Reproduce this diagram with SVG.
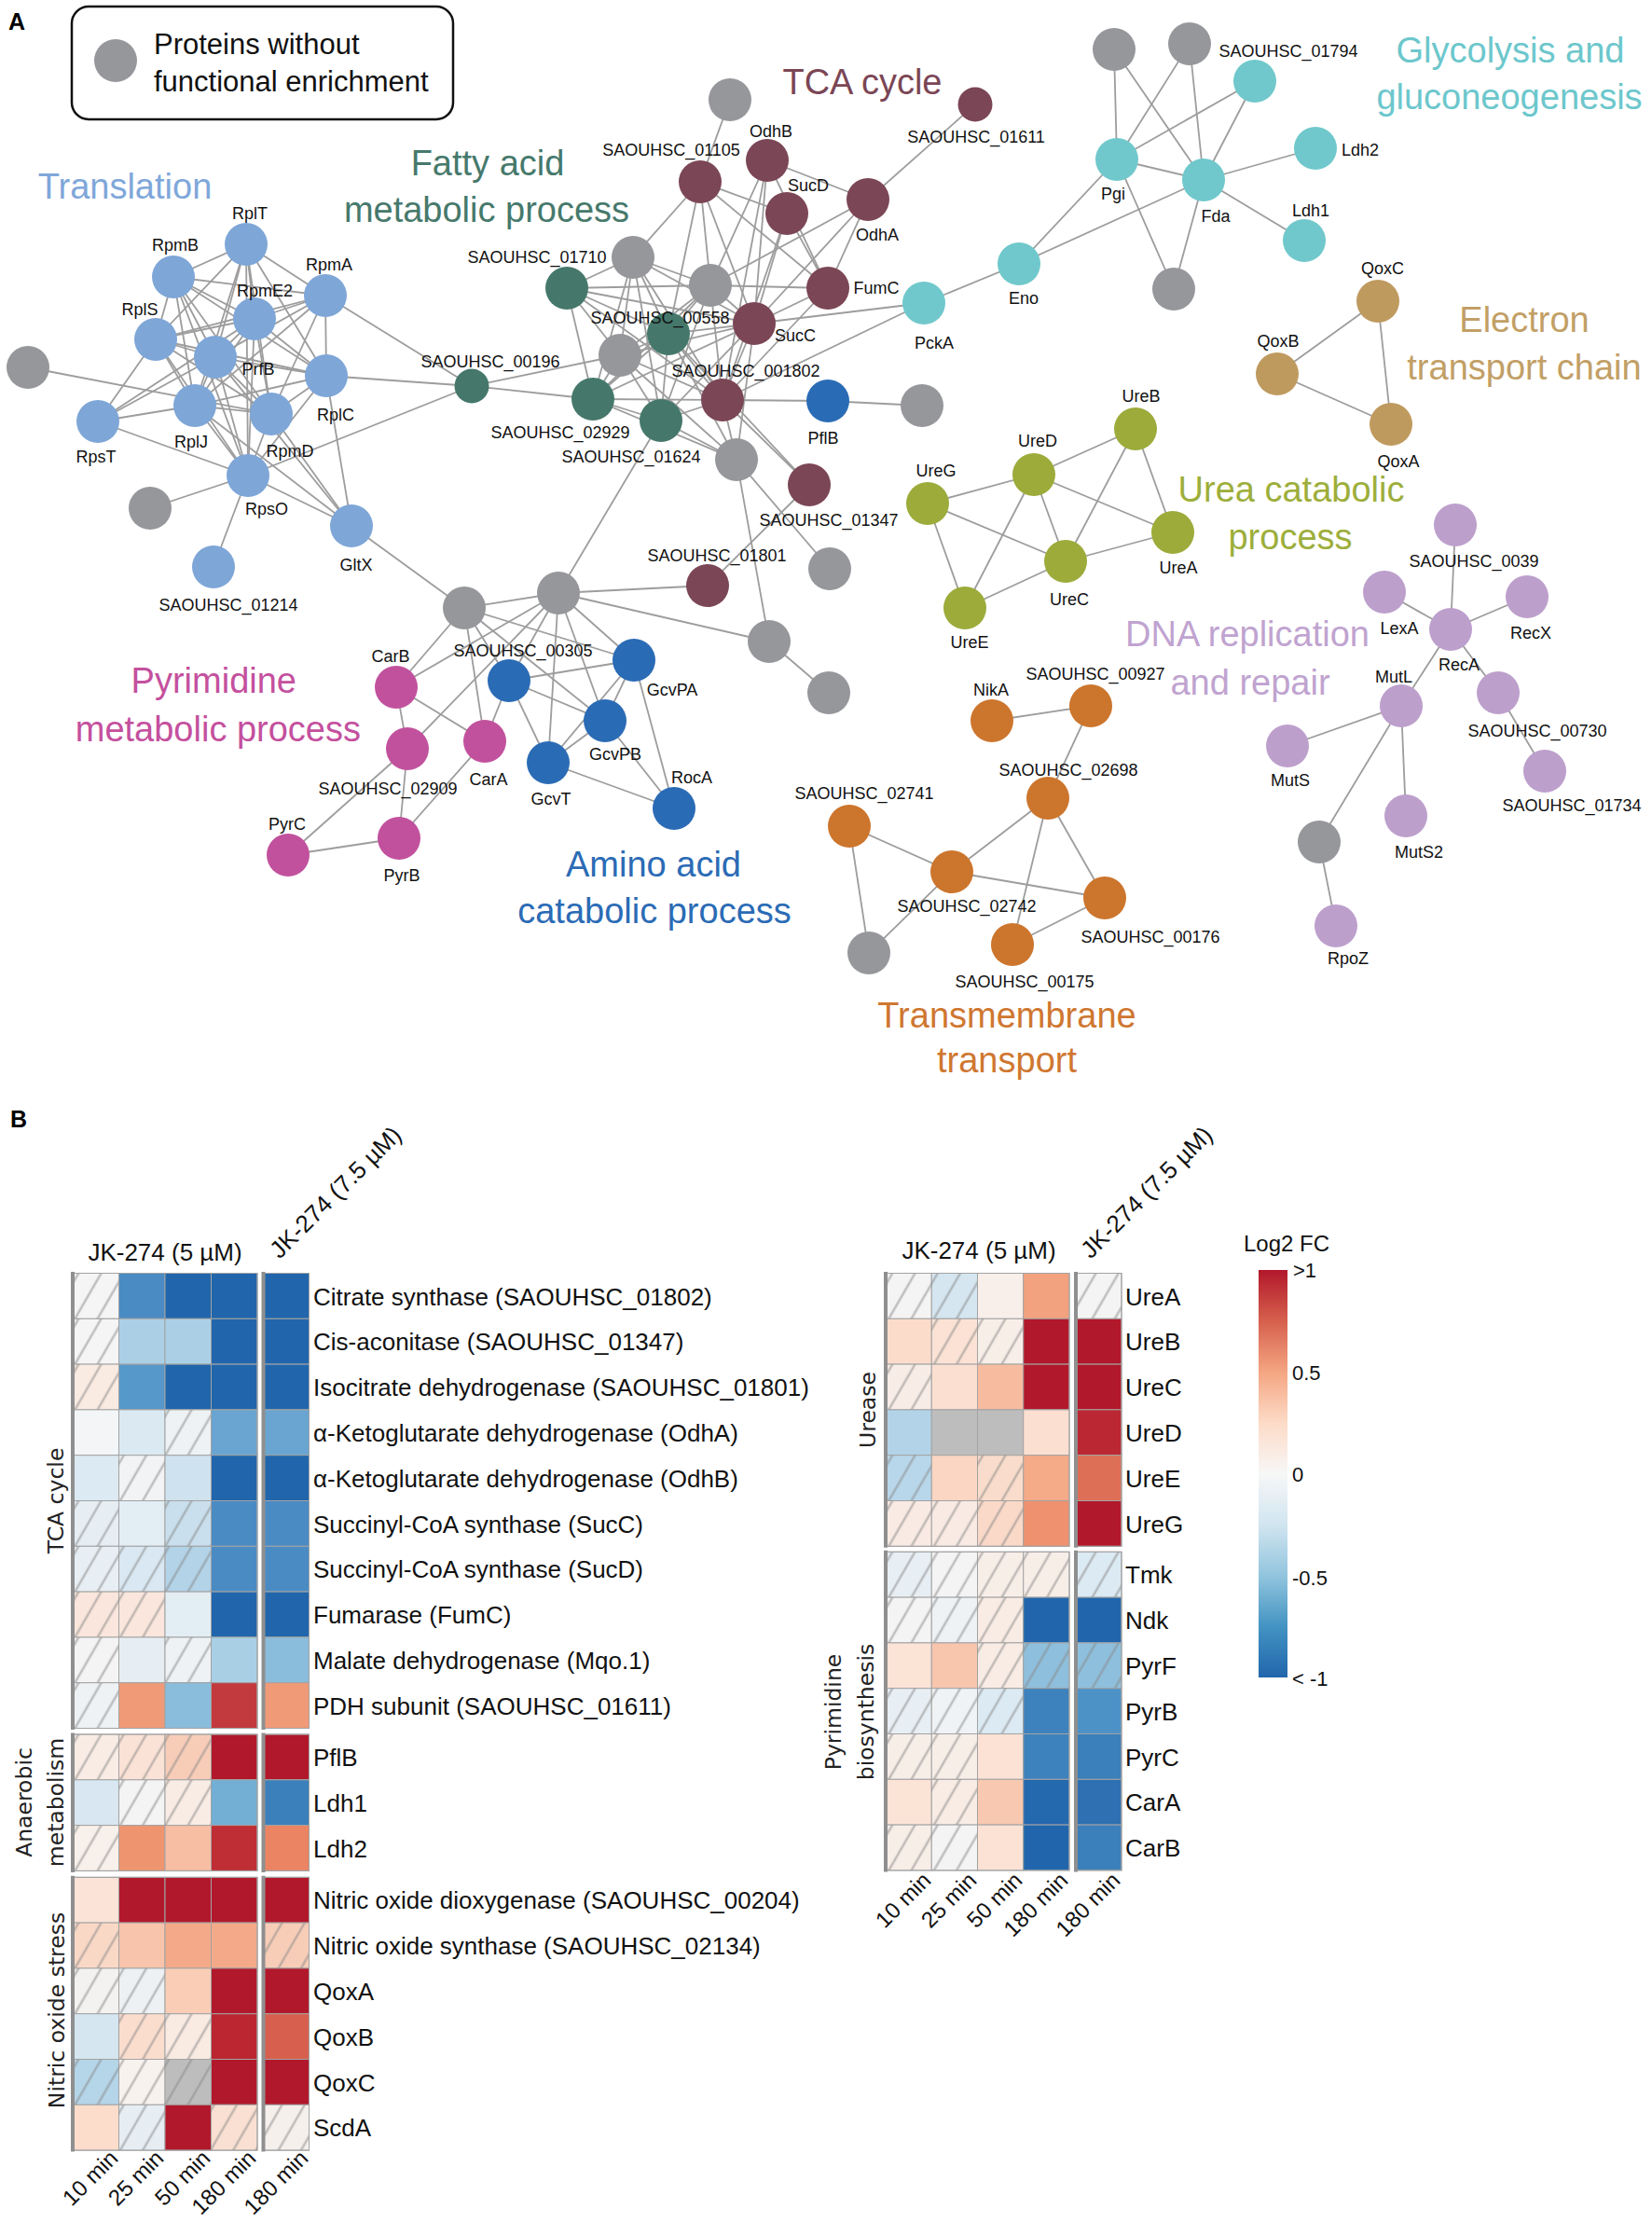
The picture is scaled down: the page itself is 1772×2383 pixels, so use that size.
<svg xmlns="http://www.w3.org/2000/svg" width="1772" height="2383" viewBox="0 0 1772 2383">
<style>
text{font-family:"Liberation Sans",Arial,sans-serif}
.lbl{font-size:18px;fill:#111;text-anchor:middle}
.big{font-size:38px;text-anchor:middle}
.edges line{stroke:#9D9D9D;stroke-width:1.8}
.gr circle{fill:#96979B}
.tr circle{fill:#7EA6D7}
.fa circle{fill:#45786B}
.tca circle{fill:#7B4655}
.gly circle{fill:#70C8CC}
.etc circle{fill:#BF9A5F}
.ure circle{fill:#9CAB3A}
.dna circle{fill:#BD9FCC}
.pyr circle{fill:#C1519D}
.aa circle{fill:#2A6BB5}
.tm circle{fill:#CC752D}
.hm rect{stroke:#A3A3A3;stroke-width:1}
.hm rect.h{stroke:none}
.rl{font-size:26px;fill:#111}
.grp{font-family:"DejaVu Sans",sans-serif;font-size:23.5px;fill:#222;text-anchor:middle}
.frame{fill:none;stroke:#A0A0A0;stroke-width:3}
.lft{stroke:#8F8F8F;stroke-width:4}
.tl{font-size:24px;fill:#111;text-anchor:end}
.hd{font-size:26px;fill:#111}
.cb{font-size:22px;fill:#111}
</style>
<defs>
<pattern id="hatch" patternUnits="userSpaceOnUse" width="21" height="21" patternTransform="rotate(30)">
<line x1="10" y1="-1" x2="10" y2="22" stroke="#8A8A8A" stroke-opacity="0.5" stroke-width="2.6"/>
</pattern>
<linearGradient id="cbar" x1="0" y1="0" x2="0" y2="1">
<stop offset="0" stop-color="#B2182B"/>
<stop offset="0.125" stop-color="#D6604D"/>
<stop offset="0.25" stop-color="#F4A582"/>
<stop offset="0.375" stop-color="#FDDBC7"/>
<stop offset="0.5" stop-color="#F7F7F7"/>
<stop offset="0.625" stop-color="#D1E5F0"/>
<stop offset="0.75" stop-color="#92C5DE"/>
<stop offset="0.875" stop-color="#4393C3"/>
<stop offset="1" stop-color="#2166AC"/>
</linearGradient>
</defs>
<rect width="1772" height="2383" fill="#FFFFFF"/>

<!-- Panel A -->
<text x="9" y="32" font-size="25" font-weight="bold" fill="#000">A</text>
<g id="legend">
<rect x="77" y="7" width="409" height="121" rx="18" fill="#FFF" stroke="#111" stroke-width="2.5"/>
<circle cx="124" cy="65" r="23" fill="#96979B"/>
<text x="165" y="58" font-size="31" fill="#111">Proteins without</text>
<text x="165" y="98" font-size="31" fill="#111">functional enrichment</text>
</g>

<g id="cluster-titles">
<text class="big" x="134" y="213" fill="#7FA7DA">Translation</text>
<text class="big" x="523" y="188" fill="#46796C">Fatty acid</text>
<text class="big" x="522" y="238" fill="#46796C">metabolic process</text>
<text class="big" x="925" y="101" fill="#7B4655">TCA cycle</text>
<text class="big" x="1620" y="67" fill="#6CC7CC">Glycolysis and</text>
<text class="big" x="1619" y="117" fill="#6CC7CC">gluconeogenesis</text>
<text class="big" x="1635" y="356" fill="#C29F66">Electron</text>
<text class="big" x="1635" y="407" fill="#C29F66">transport chain</text>
<text class="big" x="1385" y="538" fill="#9DAE3B">Urea catabolic</text>
<text class="big" x="1384" y="589" fill="#9DAE3B">process</text>
<text class="big" x="1338" y="693" fill="#C0A3D0" font-size="39">DNA replication</text>
<text class="big" x="1341" y="745" fill="#C0A3D0" font-size="39">and repair</text>
<text class="big" x="318" y="743" fill="#C4509E" style="text-anchor:end">Pyrimidine</text>
<text class="big" x="387" y="795" fill="#C4509E" style="text-anchor:end">metabolic process</text>
<text class="big" x="701" y="940" fill="#2B6BB5">Amino acid</text>
<text class="big" x="702" y="990" fill="#2B6BB5">catabolic process</text>
<text class="big" x="1080" y="1102" fill="#CF7730">Transmembrane</text>
<text class="big" x="1080" y="1150" fill="#CF7730">transport</text>
</g>

<g id="connectors" class="edges">
<line x1="264" y1="262" x2="186" y2="297"/><line x1="264" y1="262" x2="349" y2="317"/><line x1="264" y1="262" x2="273" y2="342"/><line x1="264" y1="262" x2="167" y2="364"/><line x1="264" y1="262" x2="231" y2="383"/><line x1="264" y1="262" x2="209" y2="435"/><line x1="264" y1="262" x2="291" y2="444"/><line x1="264" y1="262" x2="350" y2="403"/><line x1="264" y1="262" x2="266" y2="510"/>
<line x1="186" y1="297" x2="273" y2="342"/><line x1="186" y1="297" x2="349" y2="317"/><line x1="186" y1="297" x2="167" y2="364"/><line x1="186" y1="297" x2="231" y2="383"/><line x1="186" y1="297" x2="209" y2="435"/><line x1="186" y1="297" x2="291" y2="444"/><line x1="186" y1="297" x2="350" y2="403"/><line x1="186" y1="297" x2="266" y2="510"/>
<line x1="349" y1="317" x2="273" y2="342"/><line x1="349" y1="317" x2="167" y2="364"/><line x1="349" y1="317" x2="231" y2="383"/><line x1="349" y1="317" x2="209" y2="435"/><line x1="349" y1="317" x2="350" y2="403"/><line x1="349" y1="317" x2="291" y2="444"/><line x1="349" y1="317" x2="506" y2="414"/>
<line x1="273" y1="342" x2="167" y2="364"/><line x1="273" y1="342" x2="231" y2="383"/><line x1="273" y1="342" x2="209" y2="435"/><line x1="273" y1="342" x2="291" y2="444"/><line x1="273" y1="342" x2="350" y2="403"/><line x1="273" y1="342" x2="105" y2="452"/><line x1="273" y1="342" x2="266" y2="510"/>
<line x1="167" y1="364" x2="231" y2="383"/><line x1="167" y1="364" x2="209" y2="435"/><line x1="167" y1="364" x2="291" y2="444"/><line x1="167" y1="364" x2="350" y2="403"/><line x1="167" y1="364" x2="105" y2="452"/><line x1="167" y1="364" x2="266" y2="510"/>
<line x1="231" y1="383" x2="209" y2="435"/><line x1="231" y1="383" x2="291" y2="444"/><line x1="231" y1="383" x2="350" y2="403"/><line x1="231" y1="383" x2="105" y2="452"/><line x1="231" y1="383" x2="266" y2="510"/><line x1="231" y1="383" x2="377" y2="564"/>
<line x1="350" y1="403" x2="209" y2="435"/><line x1="350" y1="403" x2="291" y2="444"/><line x1="350" y1="403" x2="266" y2="510"/><line x1="350" y1="403" x2="377" y2="564"/><line x1="350" y1="403" x2="506" y2="414"/>
<line x1="209" y1="435" x2="291" y2="444"/><line x1="209" y1="435" x2="105" y2="452"/><line x1="209" y1="435" x2="266" y2="510"/><line x1="209" y1="435" x2="377" y2="564"/>
<line x1="291" y1="444" x2="266" y2="510"/><line x1="291" y1="444" x2="377" y2="564"/><line x1="105" y1="452" x2="266" y2="510"/><line x1="30" y1="394" x2="291" y2="444"/>
<line x1="266" y1="510" x2="161" y2="545"/><line x1="266" y1="510" x2="229" y2="608"/><line x1="266" y1="510" x2="377" y2="564"/><line x1="266" y1="510" x2="506" y2="414"/><line x1="377" y1="564" x2="498" y2="652"/>
<line x1="506" y1="414" x2="665" y2="381"/><line x1="506" y1="414" x2="636" y2="428"/>
<line x1="783" y1="107" x2="751" y2="195"/>
<line x1="679" y1="276" x2="751" y2="195"/><line x1="679" y1="276" x2="608" y2="309"/><line x1="679" y1="276" x2="762" y2="306"/><line x1="679" y1="276" x2="809" y2="347"/><line x1="679" y1="276" x2="665" y2="381"/><line x1="679" y1="276" x2="717" y2="358"/><line x1="679" y1="276" x2="636" y2="428"/><line x1="679" y1="276" x2="709" y2="451"/><line x1="679" y1="276" x2="775" y2="429"/>
<line x1="608" y1="309" x2="762" y2="306"/><line x1="608" y1="309" x2="809" y2="347"/><line x1="608" y1="309" x2="717" y2="358"/><line x1="608" y1="309" x2="665" y2="381"/><line x1="608" y1="309" x2="636" y2="428"/><line x1="608" y1="309" x2="775" y2="429"/>
<line x1="762" y1="306" x2="888" y2="309"/><line x1="762" y1="306" x2="809" y2="347"/><line x1="762" y1="306" x2="751" y2="195"/><line x1="762" y1="306" x2="823" y2="172"/><line x1="762" y1="306" x2="931" y2="214"/><line x1="762" y1="306" x2="717" y2="358"/><line x1="762" y1="306" x2="665" y2="381"/><line x1="762" y1="306" x2="636" y2="428"/><line x1="762" y1="306" x2="709" y2="451"/><line x1="762" y1="306" x2="775" y2="429"/>
<line x1="751" y1="195" x2="844" y2="229"/><line x1="751" y1="195" x2="888" y2="309"/><line x1="751" y1="195" x2="809" y2="347"/><line x1="751" y1="195" x2="717" y2="358"/>
<line x1="823" y1="172" x2="931" y2="214"/><line x1="823" y1="172" x2="809" y2="347"/><line x1="823" y1="172" x2="888" y2="309"/><line x1="823" y1="172" x2="775" y2="429"/>
<line x1="844" y1="229" x2="888" y2="309"/><line x1="844" y1="229" x2="809" y2="347"/><line x1="844" y1="229" x2="775" y2="429"/>
<line x1="931" y1="214" x2="1046" y2="112"/><line x1="931" y1="214" x2="809" y2="347"/><line x1="931" y1="214" x2="888" y2="309"/>
<line x1="888" y1="309" x2="809" y2="347"/><line x1="888" y1="309" x2="775" y2="429"/>
<line x1="809" y1="347" x2="991" y2="325"/><line x1="809" y1="347" x2="717" y2="358"/><line x1="809" y1="347" x2="665" y2="381"/><line x1="809" y1="347" x2="636" y2="428"/><line x1="809" y1="347" x2="709" y2="451"/><line x1="809" y1="347" x2="775" y2="429"/><line x1="809" y1="347" x2="790" y2="493"/>
<line x1="775" y1="429" x2="888" y2="430"/><line x1="775" y1="429" x2="991" y2="325"/><line x1="775" y1="429" x2="636" y2="428"/><line x1="775" y1="429" x2="709" y2="451"/><line x1="775" y1="429" x2="790" y2="493"/><line x1="775" y1="429" x2="717" y2="358"/><line x1="775" y1="429" x2="665" y2="381"/><line x1="775" y1="429" x2="868" y2="520"/>
<line x1="717" y1="358" x2="665" y2="381"/><line x1="717" y1="358" x2="636" y2="428"/><line x1="717" y1="358" x2="709" y2="451"/><line x1="717" y1="358" x2="790" y2="493"/><line x1="717" y1="358" x2="868" y2="520"/>
<line x1="665" y1="381" x2="636" y2="428"/><line x1="665" y1="381" x2="709" y2="451"/><line x1="665" y1="381" x2="790" y2="493"/>
<line x1="636" y1="428" x2="709" y2="451"/><line x1="636" y1="428" x2="790" y2="493"/><line x1="709" y1="451" x2="790" y2="493"/><line x1="709" y1="451" x2="599" y2="636"/>
<line x1="790" y1="493" x2="890" y2="610"/><line x1="790" y1="493" x2="825" y2="688"/><line x1="868" y1="520" x2="759" y2="628"/><line x1="888" y1="430" x2="989" y2="435"/>
<line x1="599" y1="636" x2="498" y2="652"/><line x1="599" y1="636" x2="759" y2="628"/><line x1="599" y1="636" x2="825" y2="688"/><line x1="599" y1="636" x2="437" y2="803"/><line x1="599" y1="636" x2="425" y2="737"/><line x1="599" y1="636" x2="546" y2="730"/><line x1="599" y1="636" x2="588" y2="818"/><line x1="599" y1="636" x2="649" y2="773"/><line x1="599" y1="636" x2="680" y2="708"/>
<line x1="498" y1="652" x2="425" y2="737"/><line x1="498" y1="652" x2="546" y2="730"/><line x1="498" y1="652" x2="520" y2="795"/><line x1="498" y1="652" x2="649" y2="773"/><line x1="498" y1="652" x2="680" y2="708"/>
<line x1="825" y1="688" x2="889" y2="743"/>
<line x1="425" y1="737" x2="437" y2="803"/><line x1="425" y1="737" x2="520" y2="795"/><line x1="437" y1="803" x2="309" y2="917"/><line x1="437" y1="803" x2="428" y2="899"/><line x1="520" y1="795" x2="428" y2="899"/><line x1="520" y1="795" x2="546" y2="730"/><line x1="309" y1="917" x2="428" y2="899"/>
<line x1="546" y1="730" x2="680" y2="708"/><line x1="546" y1="730" x2="649" y2="773"/><line x1="546" y1="730" x2="588" y2="818"/><line x1="680" y1="708" x2="649" y2="773"/><line x1="680" y1="708" x2="588" y2="818"/><line x1="680" y1="708" x2="723" y2="867"/><line x1="649" y1="773" x2="588" y2="818"/><line x1="649" y1="773" x2="723" y2="867"/><line x1="588" y1="818" x2="723" y2="867"/>
<line x1="1195" y1="53" x2="1198" y2="171"/><line x1="1195" y1="53" x2="1291" y2="193"/><line x1="1276" y1="47" x2="1198" y2="171"/><line x1="1276" y1="47" x2="1291" y2="193"/><line x1="1346" y1="87" x2="1198" y2="171"/><line x1="1346" y1="87" x2="1291" y2="193"/>
<line x1="1198" y1="171" x2="1291" y2="193"/><line x1="1198" y1="171" x2="1093" y2="283"/><line x1="1198" y1="171" x2="1259" y2="310"/><line x1="1291" y1="193" x2="1411" y2="159"/><line x1="1291" y1="193" x2="1399" y2="258"/><line x1="1291" y1="193" x2="1093" y2="283"/><line x1="1291" y1="193" x2="1259" y2="310"/><line x1="1093" y1="283" x2="991" y2="325"/>
<line x1="1478" y1="323" x2="1370" y2="401"/><line x1="1478" y1="323" x2="1492" y2="455"/><line x1="1370" y1="401" x2="1492" y2="455"/>
<line x1="995" y1="540" x2="1109" y2="509"/><line x1="995" y1="540" x2="1143" y2="602"/><line x1="995" y1="540" x2="1035" y2="652"/><line x1="1109" y1="509" x2="1218" y2="460"/><line x1="1109" y1="509" x2="1258" y2="571"/><line x1="1109" y1="509" x2="1143" y2="602"/><line x1="1109" y1="509" x2="1035" y2="652"/><line x1="1218" y1="460" x2="1143" y2="602"/><line x1="1218" y1="460" x2="1258" y2="571"/><line x1="1143" y1="602" x2="1258" y2="571"/><line x1="1143" y1="602" x2="1035" y2="652"/>
<line x1="1561" y1="563" x2="1556" y2="675"/><line x1="1485" y1="635" x2="1556" y2="675"/><line x1="1638" y1="640" x2="1556" y2="675"/><line x1="1556" y1="675" x2="1503" y2="757"/><line x1="1556" y1="675" x2="1607" y2="743"/><line x1="1607" y1="743" x2="1657" y2="827"/><line x1="1503" y1="757" x2="1381" y2="800"/><line x1="1503" y1="757" x2="1415" y2="903"/><line x1="1503" y1="757" x2="1508" y2="875"/><line x1="1415" y1="903" x2="1433" y2="993"/>
<line x1="1064" y1="773" x2="1170" y2="757"/><line x1="1170" y1="757" x2="1124" y2="856"/><line x1="1124" y1="856" x2="1021" y2="935"/><line x1="1124" y1="856" x2="1086" y2="1013"/><line x1="1124" y1="856" x2="1185" y2="963"/><line x1="911" y1="886" x2="1021" y2="935"/><line x1="911" y1="886" x2="932" y2="1022"/><line x1="1021" y1="935" x2="1185" y2="963"/><line x1="1021" y1="935" x2="932" y2="1022"/><line x1="1185" y1="963" x2="1086" y2="1013"/>
</g>

<g id="nodes">
<g id="n-g1" class="gr"><circle cx="30" cy="394" r="23"/></g>
<g id="n-g2" class="gr"><circle cx="161" cy="545" r="23"/></g>
<g id="n-g3" class="gr"><circle cx="783" cy="107" r="23"/></g>
<g id="n-g4" class="gr"><circle cx="679" cy="276" r="23"/></g>
<g id="n-g5" class="gr"><circle cx="762" cy="306" r="23"/></g>
<g id="n-g6" class="gr"><circle cx="665" cy="381" r="23"/></g>
<g id="n-g7" class="gr"><circle cx="790" cy="493" r="23"/></g>
<g id="n-g8" class="gr"><circle cx="989" cy="435" r="23"/></g>
<g id="n-g9" class="gr"><circle cx="890" cy="610" r="23"/></g>
<g id="n-g10" class="gr"><circle cx="599" cy="636" r="23"/></g>
<g id="n-g11" class="gr"><circle cx="498" cy="652" r="23"/></g>
<g id="n-g12" class="gr"><circle cx="825" cy="688" r="23"/></g>
<g id="n-g13" class="gr"><circle cx="889" cy="743" r="23"/></g>
<g id="n-g14" class="gr"><circle cx="1195" cy="53" r="23"/></g>
<g id="n-g15" class="gr"><circle cx="1276" cy="47" r="23"/></g>
<g id="n-g16" class="gr"><circle cx="1259" cy="310" r="23"/></g>
<g id="n-g17" class="gr"><circle cx="1415" cy="903" r="23"/></g>
<g id="n-g18" class="gr"><circle cx="932" cy="1022" r="23"/></g>

<g id="n-RplT" class="tr"><circle cx="264" cy="262" r="23"/><text class="lbl" x="268" y="235">RplT</text></g>
<g id="n-RpmB" class="tr"><circle cx="186" cy="297" r="23"/><text class="lbl" x="188" y="269">RpmB</text></g>
<g id="n-RpmA" class="tr"><circle cx="349" cy="317" r="23"/><text class="lbl" x="353" y="290">RpmA</text></g>
<g id="n-RplS" class="tr"><circle cx="167" cy="364" r="23"/><text class="lbl" x="150" y="338">RplS</text></g>
<g id="n-RpmE2" class="tr"><circle cx="273" cy="342" r="23"/><text class="lbl" x="284" y="318">RpmE2</text></g>
<g id="n-PrfB" class="tr"><circle cx="231" cy="383" r="23"/><text class="lbl" x="277" y="402">PrfB</text></g>
<g id="n-RplC" class="tr"><circle cx="350" cy="403" r="23"/><text class="lbl" x="360" y="451">RplC</text></g>
<g id="n-RplJ" class="tr"><circle cx="209" cy="435" r="23"/><text class="lbl" x="205" y="480">RplJ</text></g>
<g id="n-RpmD" class="tr"><circle cx="291" cy="444" r="23"/><text class="lbl" x="311" y="490">RpmD</text></g>
<g id="n-RpsT" class="tr"><circle cx="105" cy="452" r="23"/><text class="lbl" x="103" y="496">RpsT</text></g>
<g id="n-RpsO" class="tr"><circle cx="266" cy="510" r="23"/><text class="lbl" x="286" y="552">RpsO</text></g>
<g id="n-SAOUHSC_01214" class="tr"><circle cx="229" cy="608" r="23"/><text class="lbl" x="245" y="655">SAOUHSC_01214</text></g>
<g id="n-GltX" class="tr"><circle cx="377" cy="564" r="23"/><text class="lbl" x="382" y="612">GltX</text></g>

<g id="n-SAOUHSC_00196" class="fa"><circle cx="506" cy="414" r="18.5"/><text class="lbl" x="526" y="394">SAOUHSC_00196</text></g>
<g id="n-SAOUHSC_01710" class="fa"><circle cx="608" cy="309" r="23"/><text class="lbl" x="576" y="282">SAOUHSC_01710</text></g>
<g id="n-SAOUHSC_00558" class="fa"><circle cx="717" cy="358" r="23"/><text class="lbl" x="708" y="347">SAOUHSC_00558</text></g>
<g id="n-SAOUHSC_02929" class="fa"><circle cx="636" cy="428" r="23"/><text class="lbl" x="601" y="470">SAOUHSC_02929</text></g>
<g id="n-SAOUHSC_01624" class="fa"><circle cx="709" cy="451" r="23"/><text class="lbl" x="677" y="496">SAOUHSC_01624</text></g>

<g id="n-SAOUHSC_01105" class="tca"><circle cx="751" cy="195" r="23"/><text class="lbl" x="720" y="167">SAOUHSC_01105</text></g>
<g id="n-OdhB" class="tca"><circle cx="823" cy="172" r="23"/><text class="lbl" x="827" y="147">OdhB</text></g>
<g id="n-SucD" class="tca"><circle cx="844" cy="229" r="23"/><text class="lbl" x="867" y="205">SucD</text></g>
<g id="n-OdhA" class="tca"><circle cx="931" cy="214" r="23"/><text class="lbl" x="941" y="258">OdhA</text></g>
<g id="n-FumC" class="tca"><circle cx="888" cy="309" r="23"/><text class="lbl" x="940" y="315">FumC</text></g>
<g id="n-SucC" class="tca"><circle cx="809" cy="347" r="23"/><text class="lbl" x="853" y="366">SucC</text></g>
<g id="n-SAOUHSC_001802" class="tca"><circle cx="775" cy="429" r="23"/><text class="lbl" x="800" y="404">SAOUHSC_001802</text></g>
<g id="n-SAOUHSC_01347" class="tca"><circle cx="868" cy="520" r="23"/><text class="lbl" x="889" y="564">SAOUHSC_01347</text></g>
<g id="n-SAOUHSC_01801" class="tca"><circle cx="759" cy="628" r="23"/><text class="lbl" x="769" y="602">SAOUHSC_01801</text></g>
<g id="n-SAOUHSC_01611" class="tca"><circle cx="1046" cy="112" r="18.5"/><text class="lbl" x="1047" y="153">SAOUHSC_01611</text></g>

<g id="n-PflB" class="aa"><circle cx="888" cy="430" r="23"/><text class="lbl" x="883" y="476">PflB</text></g>

<g id="n-PckA" class="gly"><circle cx="991" cy="325" r="23"/><text class="lbl" x="1002" y="374">PckA</text></g>
<g id="n-Eno" class="gly"><circle cx="1093" cy="283" r="23"/><text class="lbl" x="1098" y="326">Eno</text></g>
<g id="n-Pgi" class="gly"><circle cx="1198" cy="171" r="23"/><text class="lbl" x="1194" y="214">Pgi</text></g>
<g id="n-Fda" class="gly"><circle cx="1291" cy="193" r="23"/><text class="lbl" x="1304" y="238">Fda</text></g>
<g id="n-SAOUHSC_01794" class="gly"><circle cx="1346" cy="87" r="23"/><text class="lbl" x="1382" y="61">SAOUHSC_01794</text></g>
<g id="n-Ldh2" class="gly"><circle cx="1411" cy="159" r="23"/><text class="lbl" x="1459" y="167">Ldh2</text></g>
<g id="n-Ldh1" class="gly"><circle cx="1399" cy="258" r="23"/><text class="lbl" x="1406" y="232">Ldh1</text></g>

<g id="n-QoxC" class="etc"><circle cx="1478" cy="323" r="23"/><text class="lbl" x="1483" y="294">QoxC</text></g>
<g id="n-QoxB" class="etc"><circle cx="1370" cy="401" r="23"/><text class="lbl" x="1371" y="372">QoxB</text></g>
<g id="n-QoxA" class="etc"><circle cx="1492" cy="455" r="23"/><text class="lbl" x="1500" y="501">QoxA</text></g>

<g id="n-UreB" class="ure"><circle cx="1218" cy="460" r="23"/><text class="lbl" x="1224" y="431">UreB</text></g>
<g id="n-UreD" class="ure"><circle cx="1109" cy="509" r="23"/><text class="lbl" x="1113" y="479">UreD</text></g>
<g id="n-UreG" class="ure"><circle cx="995" cy="540" r="23"/><text class="lbl" x="1004" y="511">UreG</text></g>
<g id="n-UreA" class="ure"><circle cx="1258" cy="571" r="23"/><text class="lbl" x="1264" y="615">UreA</text></g>
<g id="n-UreC" class="ure"><circle cx="1143" cy="602" r="23"/><text class="lbl" x="1147" y="649">UreC</text></g>
<g id="n-UreE" class="ure"><circle cx="1035" cy="652" r="23"/><text class="lbl" x="1040" y="695">UreE</text></g>

<g id="n-SAOUHSC_0039" class="dna"><circle cx="1561" cy="563" r="23"/><text class="lbl" x="1581" y="608">SAOUHSC_0039</text></g>
<g id="n-LexA" class="dna"><circle cx="1485" cy="635" r="23"/><text class="lbl" x="1501" y="680">LexA</text></g>
<g id="n-RecX" class="dna"><circle cx="1638" cy="640" r="23"/><text class="lbl" x="1642" y="685">RecX</text></g>
<g id="n-RecA" class="dna"><circle cx="1556" cy="675" r="23"/><text class="lbl" x="1565" y="719">RecA</text></g>
<g id="n-MutL" class="dna"><circle cx="1503" cy="757" r="23"/><text class="lbl" x="1495" y="732">MutL</text></g>
<g id="n-SAOUHSC_00730" class="dna"><circle cx="1607" cy="743" r="23"/><text class="lbl" x="1649" y="790">SAOUHSC_00730</text></g>
<g id="n-SAOUHSC_01734" class="dna"><circle cx="1657" cy="827" r="23"/><text class="lbl" x="1686" y="870">SAOUHSC_01734</text></g>
<g id="n-MutS" class="dna"><circle cx="1381" cy="800" r="23"/><text class="lbl" x="1384" y="843">MutS</text></g>
<g id="n-MutS2" class="dna"><circle cx="1508" cy="875" r="23"/><text class="lbl" x="1522" y="920">MutS2</text></g>
<g id="n-RpoZ" class="dna"><circle cx="1433" cy="993" r="23"/><text class="lbl" x="1446" y="1034">RpoZ</text></g>

<g id="n-NikA" class="tm"><circle cx="1064" cy="773" r="23"/><text class="lbl" x="1063" y="746">NikA</text></g>
<g id="n-SAOUHSC_00927" class="tm"><circle cx="1170" cy="757" r="23"/><text class="lbl" x="1175" y="729">SAOUHSC_00927</text></g>
<g id="n-SAOUHSC_02698" class="tm"><circle cx="1124" cy="856" r="23"/><text class="lbl" x="1146" y="832">SAOUHSC_02698</text></g>
<g id="n-SAOUHSC_02741" class="tm"><circle cx="911" cy="886" r="23"/><text class="lbl" x="927" y="857">SAOUHSC_02741</text></g>
<g id="n-SAOUHSC_02742" class="tm"><circle cx="1021" cy="935" r="23"/><text class="lbl" x="1037" y="978">SAOUHSC_02742</text></g>
<g id="n-SAOUHSC_00176" class="tm"><circle cx="1185" cy="963" r="23"/><text class="lbl" x="1234" y="1011">SAOUHSC_00176</text></g>
<g id="n-SAOUHSC_00175" class="tm"><circle cx="1086" cy="1013" r="23"/><text class="lbl" x="1099" y="1059">SAOUHSC_00175</text></g>

<g id="n-CarB" class="pyr"><circle cx="425" cy="737" r="23"/><text class="lbl" x="419" y="710">CarB</text></g>
<g id="n-SAOUHSC_02909" class="pyr"><circle cx="437" cy="803" r="23"/><text class="lbl" x="416" y="852">SAOUHSC_02909</text></g>
<g id="n-CarA" class="pyr"><circle cx="520" cy="795" r="23"/><text class="lbl" x="524" y="842">CarA</text></g>
<g id="n-PyrC" class="pyr"><circle cx="309" cy="917" r="23"/><text class="lbl" x="308" y="890">PyrC</text></g>
<g id="n-PyrB" class="pyr"><circle cx="428" cy="899" r="23"/><text class="lbl" x="431" y="945">PyrB</text></g>

<g id="n-SAOUHSC_00305" class="aa"><circle cx="546" cy="730" r="23"/><text class="lbl" x="561" y="704">SAOUHSC_00305</text></g>
<g id="n-GcvPA" class="aa"><circle cx="680" cy="708" r="23"/><text class="lbl" x="721" y="746">GcvPA</text></g>
<g id="n-GcvPB" class="aa"><circle cx="649" cy="773" r="23"/><text class="lbl" x="660" y="815">GcvPB</text></g>
<g id="n-GcvT" class="aa"><circle cx="588" cy="818" r="23"/><text class="lbl" x="591" y="863">GcvT</text></g>
<g id="n-RocA" class="aa"><circle cx="723" cy="867" r="23"/><text class="lbl" x="742" y="840">RocA</text></g>
</g>

<!-- Panel B -->
<text x="11" y="1209" font-size="25" font-weight="bold" fill="#000">B</text>

<g id="heatmap-left" class="hm">
<text class="hd" x="177" y="1352" text-anchor="middle">JK-274 (5 µM)</text>
<text class="hd" transform="translate(300,1351) rotate(-45)">JK-274 (7.5 µM)</text>

<g transform="translate(0,1365.5)"><rect x="78" width="49.5" height="48.8" fill="#F5F5F5"/><rect class="h" x="78" width="49.5" height="48.8" fill="url(#hatch)"/><rect x="127.5" width="49.5" height="48.8" fill="#4A8BC4"/><rect x="177" width="49.5" height="48.8" fill="#2166AC"/><rect x="226.5" width="49.5" height="48.8" fill="#2166AC"/><rect x="282.5" width="49" height="48.8" fill="#2166AC"/><text class="rl" x="336" y="34">Citrate synthase (SAOUHSC_01802)</text></g>
<g transform="translate(0,1414.3)"><rect x="78" width="49.5" height="48.8" fill="#F5F5F5"/><rect class="h" x="78" width="49.5" height="48.8" fill="url(#hatch)"/><rect x="127.5" width="49.5" height="48.8" fill="#ABD0E6"/><rect x="177" width="49.5" height="48.8" fill="#ABD0E6"/><rect x="226.5" width="49.5" height="48.8" fill="#2166AC"/><rect x="282.5" width="49" height="48.8" fill="#2166AC"/><text class="rl" x="336" y="34">Cis-aconitase (SAOUHSC_01347)</text></g>
<g transform="translate(0,1463.1)"><rect x="78" width="49.5" height="48.8" fill="#FAEBE2"/><rect class="h" x="78" width="49.5" height="48.8" fill="url(#hatch)"/><rect x="127.5" width="49.5" height="48.8" fill="#5698CA"/><rect x="177" width="49.5" height="48.8" fill="#2166AC"/><rect x="226.5" width="49.5" height="48.8" fill="#2166AC"/><rect x="282.5" width="49" height="48.8" fill="#2166AC"/><text class="rl" x="336" y="34">Isocitrate dehydrogenase (SAOUHSC_01801)</text></g>
<g transform="translate(0,1511.9)"><rect x="78" width="49.5" height="48.8" fill="#F3F5F7"/><rect x="127.5" width="49.5" height="48.8" fill="#DBE9F2"/><rect x="177" width="49.5" height="48.8" fill="#EEF2F5"/><rect class="h" x="177" width="49.5" height="48.8" fill="url(#hatch)"/><rect x="226.5" width="49.5" height="48.8" fill="#69A5D0"/><rect x="282.5" width="49" height="48.8" fill="#69A5D0"/><text class="rl" x="336" y="34">α-Ketoglutarate dehydrogenase (OdhA)</text></g>
<g transform="translate(0,1560.7)"><rect x="78" width="49.5" height="48.8" fill="#DCEAF3"/><rect x="127.5" width="49.5" height="48.8" fill="#F2F3F5"/><rect class="h" x="127.5" width="49.5" height="48.8" fill="url(#hatch)"/><rect x="177" width="49.5" height="48.8" fill="#CFE2EF"/><rect x="226.5" width="49.5" height="48.8" fill="#2166AC"/><rect x="282.5" width="49" height="48.8" fill="#2166AC"/><text class="rl" x="336" y="34">α-Ketoglutarate dehydrogenase (OdhB)</text></g>
<g transform="translate(0,1609.5)"><rect x="78" width="49.5" height="48.8" fill="#E6EEF4"/><rect class="h" x="78" width="49.5" height="48.8" fill="url(#hatch)"/><rect x="127.5" width="49.5" height="48.8" fill="#E3EDF4"/><rect x="177" width="49.5" height="48.8" fill="#C9DFED"/><rect class="h" x="177" width="49.5" height="48.8" fill="url(#hatch)"/><rect x="226.5" width="49.5" height="48.8" fill="#4A8BC4"/><rect x="282.5" width="49" height="48.8" fill="#4A8BC4"/><text class="rl" x="336" y="34">Succinyl-CoA synthase (SucC)</text></g>
<g transform="translate(0,1658.3)"><rect x="78" width="49.5" height="48.8" fill="#E8EFF4"/><rect class="h" x="78" width="49.5" height="48.8" fill="url(#hatch)"/><rect x="127.5" width="49.5" height="48.8" fill="#D9E8F2"/><rect class="h" x="127.5" width="49.5" height="48.8" fill="url(#hatch)"/><rect x="177" width="49.5" height="48.8" fill="#B2D3E8"/><rect class="h" x="177" width="49.5" height="48.8" fill="url(#hatch)"/><rect x="226.5" width="49.5" height="48.8" fill="#4A8BC4"/><rect x="282.5" width="49" height="48.8" fill="#4A8BC4"/><text class="rl" x="336" y="34">Succinyl-CoA synthase (SucD)</text></g>
<g transform="translate(0,1707.1)"><rect x="78" width="49.5" height="48.8" fill="#FAE6DC"/><rect class="h" x="78" width="49.5" height="48.8" fill="url(#hatch)"/><rect x="127.5" width="49.5" height="48.8" fill="#FAE6DC"/><rect class="h" x="127.5" width="49.5" height="48.8" fill="url(#hatch)"/><rect x="177" width="49.5" height="48.8" fill="#E3EDF4"/><rect x="226.5" width="49.5" height="48.8" fill="#2166AC"/><rect x="282.5" width="49" height="48.8" fill="#2166AC"/><text class="rl" x="336" y="34">Fumarase (FumC)</text></g>
<g transform="translate(0,1755.9)"><rect x="78" width="49.5" height="48.8" fill="#F4F4F4"/><rect class="h" x="78" width="49.5" height="48.8" fill="url(#hatch)"/><rect x="127.5" width="49.5" height="48.8" fill="#E6EEF4"/><rect x="177" width="49.5" height="48.8" fill="#EEF2F5"/><rect class="h" x="177" width="49.5" height="48.8" fill="url(#hatch)"/><rect x="226.5" width="49.5" height="48.8" fill="#A9CFE5"/><rect x="282.5" width="49" height="48.8" fill="#8ABCDB"/><text class="rl" x="336" y="34">Malate dehydrogenase (Mqo.1)</text></g>
<g transform="translate(0,1804.7)"><rect x="78" width="49.5" height="48.8" fill="#EEF2F5"/><rect class="h" x="78" width="49.5" height="48.8" fill="url(#hatch)"/><rect x="127.5" width="49.5" height="48.8" fill="#F09A78"/><rect x="177" width="49.5" height="48.8" fill="#8ABCDB"/><rect x="226.5" width="49.5" height="48.8" fill="#C23A3E"/><rect x="282.5" width="49" height="48.8" fill="#F09A78"/><text class="rl" x="336" y="34">PDH subunit (SAOUHSC_01611)</text></g>
<rect class="frame" x="78" y="1365.5" width="198" height="488"/><rect class="frame" x="282.5" y="1365.5" width="49" height="488"/>
<line class="lft" x1="78" y1="1364" x2="78" y2="1855"/><line class="lft" x1="282.5" y1="1364" x2="282.5" y2="1855"/>

<g transform="translate(0,1860)"><rect x="78" width="49.5" height="48.8" fill="#F9ECE5"/><rect class="h" x="78" width="49.5" height="48.8" fill="url(#hatch)"/><rect x="127.5" width="49.5" height="48.8" fill="#FBE2D6"/><rect class="h" x="127.5" width="49.5" height="48.8" fill="url(#hatch)"/><rect x="177" width="49.5" height="48.8" fill="#F8CDB8"/><rect class="h" x="177" width="49.5" height="48.8" fill="url(#hatch)"/><rect x="226.5" width="49.5" height="48.8" fill="#B2182B"/><rect x="282.5" width="49" height="48.8" fill="#B2182B"/><text class="rl" x="336" y="34">PflB</text></g>
<g transform="translate(0,1908.8)"><rect x="78" width="49.5" height="48.8" fill="#D8E7F1"/><rect x="127.5" width="49.5" height="48.8" fill="#F4F4F4"/><rect class="h" x="127.5" width="49.5" height="48.8" fill="url(#hatch)"/><rect x="177" width="49.5" height="48.8" fill="#F9ECE5"/><rect class="h" x="177" width="49.5" height="48.8" fill="url(#hatch)"/><rect x="226.5" width="49.5" height="48.8" fill="#73AED4"/><rect x="282.5" width="49" height="48.8" fill="#3B80BB"/><text class="rl" x="336" y="34">Ldh1</text></g>
<g transform="translate(0,1957.6)"><rect x="78" width="49.5" height="48.8" fill="#F8F0EA"/><rect class="h" x="78" width="49.5" height="48.8" fill="url(#hatch)"/><rect x="127.5" width="49.5" height="48.8" fill="#EE9570"/><rect x="177" width="49.5" height="48.8" fill="#F7BEA4"/><rect x="226.5" width="49.5" height="48.8" fill="#BF2D35"/><rect x="282.5" width="49" height="48.8" fill="#EA8463"/><text class="rl" x="336" y="34">Ldh2</text></g>
<rect class="frame" x="78" y="1860" width="198" height="146.4"/><rect class="frame" x="282.5" y="1860" width="49" height="146.4"/>
<line class="lft" x1="78" y1="1858.5" x2="78" y2="2008"/><line class="lft" x1="282.5" y1="1858.5" x2="282.5" y2="2008"/>

<g transform="translate(0,2013.3)"><rect x="78" width="49.5" height="48.8" fill="#FCE3D7"/><rect x="127.5" width="49.5" height="48.8" fill="#B2182B"/><rect x="177" width="49.5" height="48.8" fill="#B2182B"/><rect x="226.5" width="49.5" height="48.8" fill="#B2182B"/><rect x="282.5" width="49" height="48.8" fill="#B2182B"/><text class="rl" x="336" y="34">Nitric oxide dioxygenase (SAOUHSC_00204)</text></g>
<g transform="translate(0,2062.1)"><rect x="78" width="49.5" height="48.8" fill="#FAD8C6"/><rect class="h" x="78" width="49.5" height="48.8" fill="url(#hatch)"/><rect x="127.5" width="49.5" height="48.8" fill="#F8C4AB"/><rect x="177" width="49.5" height="48.8" fill="#F4AA88"/><rect x="226.5" width="49.5" height="48.8" fill="#F4AA88"/><rect x="282.5" width="49" height="48.8" fill="#F8CDB8"/><rect class="h" x="282.5" width="49" height="48.8" fill="url(#hatch)"/><text class="rl" x="336" y="34">Nitric oxide synthase (SAOUHSC_02134)</text></g>
<g transform="translate(0,2110.9)"><rect x="78" width="49.5" height="48.8" fill="#F4F2F0"/><rect class="h" x="78" width="49.5" height="48.8" fill="url(#hatch)"/><rect x="127.5" width="49.5" height="48.8" fill="#EEF1F4"/><rect class="h" x="127.5" width="49.5" height="48.8" fill="url(#hatch)"/><rect x="177" width="49.5" height="48.8" fill="#F9CDB6"/><rect x="226.5" width="49.5" height="48.8" fill="#B2182B"/><rect x="282.5" width="49" height="48.8" fill="#B2182B"/><text class="rl" x="336" y="34">QoxA</text></g>
<g transform="translate(0,2159.7)"><rect x="78" width="49.5" height="48.8" fill="#D5E6F0"/><rect x="127.5" width="49.5" height="48.8" fill="#FBDDCE"/><rect class="h" x="127.5" width="49.5" height="48.8" fill="url(#hatch)"/><rect x="177" width="49.5" height="48.8" fill="#F9EAE2"/><rect class="h" x="177" width="49.5" height="48.8" fill="url(#hatch)"/><rect x="226.5" width="49.5" height="48.8" fill="#BB2631"/><rect x="282.5" width="49" height="48.8" fill="#D6604D"/><text class="rl" x="336" y="34">QoxB</text></g>
<g transform="translate(0,2208.5)"><rect x="78" width="49.5" height="48.8" fill="#B5D5E9"/><rect class="h" x="78" width="49.5" height="48.8" fill="url(#hatch)"/><rect x="127.5" width="49.5" height="48.8" fill="#F8F2EF"/><rect class="h" x="127.5" width="49.5" height="48.8" fill="url(#hatch)"/><rect x="177" width="49.5" height="48.8" fill="#BDBDBD"/><rect class="h" x="177" width="49.5" height="48.8" fill="url(#hatch)"/><rect x="226.5" width="49.5" height="48.8" fill="#B2182B"/><rect x="282.5" width="49" height="48.8" fill="#B2182B"/><text class="rl" x="336" y="34">QoxC</text></g>
<g transform="translate(0,2257.3)"><rect x="78" width="49.5" height="48.8" fill="#FCDDCB"/><rect x="127.5" width="49.5" height="48.8" fill="#E6EEF4"/><rect class="h" x="127.5" width="49.5" height="48.8" fill="url(#hatch)"/><rect x="177" width="49.5" height="48.8" fill="#B2182B"/><rect x="226.5" width="49.5" height="48.8" fill="#FAE0D2"/><rect class="h" x="226.5" width="49.5" height="48.8" fill="url(#hatch)"/><rect x="282.5" width="49" height="48.8" fill="#F6F0EC"/><rect class="h" x="282.5" width="49" height="48.8" fill="url(#hatch)"/><text class="rl" x="336" y="34">ScdA</text></g>
<rect class="frame" x="78" y="2013.3" width="198" height="292.8"/><rect class="frame" x="282.5" y="2013.3" width="49" height="292.8"/>
<line class="lft" x1="78" y1="2011.8" x2="78" y2="2307.6"/><line class="lft" x1="282.5" y1="2011.8" x2="282.5" y2="2307.6"/>

<text class="grp" transform="translate(68,1609.5) rotate(-90)">TCA cycle</text>
<text class="grp" transform="translate(34,1933) rotate(-90)">Anaerobic</text>
<text class="grp" transform="translate(68,1933) rotate(-90)">metabolism</text>
<text class="grp" transform="translate(69,2156) rotate(-90)">Nitric oxide stress</text>

<text class="tl" transform="translate(128,2316) rotate(-45)">10 min</text>
<text class="tl" transform="translate(177,2316) rotate(-45)">25 min</text>
<text class="tl" transform="translate(227,2316) rotate(-45)">50 min</text>
<text class="tl" transform="translate(276,2316) rotate(-45)">180 min</text>
<text class="tl" transform="translate(332,2316) rotate(-45)">180 min</text>
</g>

<g id="heatmap-right" class="hm">
<text class="hd" x="1050" y="1350" text-anchor="middle">JK-274 (5 µM)</text>
<text class="hd" transform="translate(1170,1351) rotate(-45)">JK-274 (7.5 µM)</text>

<g transform="translate(0,1365.5)"><rect x="950" width="49.25" height="48.8" fill="#F4F4F4"/><rect class="h" x="950" width="49.25" height="48.8" fill="url(#hatch)"/><rect x="999.25" width="49.25" height="48.8" fill="#D5E6F0"/><rect class="h" x="999.25" width="49.25" height="48.8" fill="url(#hatch)"/><rect x="1048.5" width="49.25" height="48.8" fill="#F8EFEA"/><rect x="1097.75" width="49.25" height="48.8" fill="#F3A27F"/><rect x="1154" width="49" height="48.8" fill="#F4F4F4"/><rect class="h" x="1154" width="49" height="48.8" fill="url(#hatch)"/><text class="rl" x="1207" y="34">UreA</text></g>
<g transform="translate(0,1414.3)"><rect x="950" width="49.25" height="48.8" fill="#FBDCCB"/><rect x="999.25" width="49.25" height="48.8" fill="#FBE2D4"/><rect class="h" x="999.25" width="49.25" height="48.8" fill="url(#hatch)"/><rect x="1048.5" width="49.25" height="48.8" fill="#F8EEE8"/><rect class="h" x="1048.5" width="49.25" height="48.8" fill="url(#hatch)"/><rect x="1097.75" width="49.25" height="48.8" fill="#B2182B"/><rect x="1154" width="49" height="48.8" fill="#B2182B"/><text class="rl" x="1207" y="34">UreB</text></g>
<g transform="translate(0,1463.1)"><rect x="950" width="49.25" height="48.8" fill="#F8ECE6"/><rect class="h" x="950" width="49.25" height="48.8" fill="url(#hatch)"/><rect x="999.25" width="49.25" height="48.8" fill="#FBE0D1"/><rect x="1048.5" width="49.25" height="48.8" fill="#F7BCA0"/><rect x="1097.75" width="49.25" height="48.8" fill="#B2182B"/><rect x="1154" width="49" height="48.8" fill="#B2182B"/><text class="rl" x="1207" y="34">UreC</text></g>
<g transform="translate(0,1511.9)"><rect x="950" width="49.25" height="48.8" fill="#B3D4E8"/><rect x="999.25" width="49.25" height="48.8" fill="#BDBDBD"/><rect x="1048.5" width="49.25" height="48.8" fill="#BDBDBD"/><rect x="1097.75" width="49.25" height="48.8" fill="#FBE0D2"/><rect x="1154" width="49" height="48.8" fill="#BB2732"/><text class="rl" x="1207" y="34">UreD</text></g>
<g transform="translate(0,1560.7)"><rect x="950" width="49.25" height="48.8" fill="#B8D7EA"/><rect class="h" x="950" width="49.25" height="48.8" fill="url(#hatch)"/><rect x="999.25" width="49.25" height="48.8" fill="#FAD6C3"/><rect x="1048.5" width="49.25" height="48.8" fill="#F9DCCB"/><rect class="h" x="1048.5" width="49.25" height="48.8" fill="url(#hatch)"/><rect x="1097.75" width="49.25" height="48.8" fill="#F5AA88"/><rect x="1154" width="49" height="48.8" fill="#DE6F57"/><text class="rl" x="1207" y="34">UreE</text></g>
<g transform="translate(0,1609.5)"><rect x="950" width="49.25" height="48.8" fill="#F9EAE3"/><rect class="h" x="950" width="49.25" height="48.8" fill="url(#hatch)"/><rect x="999.25" width="49.25" height="48.8" fill="#F9EAE3"/><rect class="h" x="999.25" width="49.25" height="48.8" fill="url(#hatch)"/><rect x="1048.5" width="49.25" height="48.8" fill="#FAD9C8"/><rect class="h" x="1048.5" width="49.25" height="48.8" fill="url(#hatch)"/><rect x="1097.75" width="49.25" height="48.8" fill="#EF916F"/><rect x="1154" width="49" height="48.8" fill="#B2182B"/><text class="rl" x="1207" y="34">UreG</text></g>
<rect class="frame" x="950" y="1365.5" width="197" height="292.8"/><rect class="frame" x="1154" y="1365.5" width="49" height="292.8"/>
<line class="lft" x1="950" y1="1364" x2="950" y2="1659.8"/><line class="lft" x1="1154" y1="1364" x2="1154" y2="1659.8"/>

<g transform="translate(0,1664.3)"><rect x="950" width="49.25" height="48.8" fill="#E8EFF4"/><rect class="h" x="950" width="49.25" height="48.8" fill="url(#hatch)"/><rect x="999.25" width="49.25" height="48.8" fill="#F4F4F4"/><rect class="h" x="999.25" width="49.25" height="48.8" fill="url(#hatch)"/><rect x="1048.5" width="49.25" height="48.8" fill="#F8EEE8"/><rect class="h" x="1048.5" width="49.25" height="48.8" fill="url(#hatch)"/><rect x="1097.75" width="49.25" height="48.8" fill="#F8EEE8"/><rect class="h" x="1097.75" width="49.25" height="48.8" fill="url(#hatch)"/><rect x="1154" width="49" height="48.8" fill="#DCEAF3"/><rect class="h" x="1154" width="49" height="48.8" fill="url(#hatch)"/><text class="rl" x="1207" y="34">Tmk</text></g>
<g transform="translate(0,1713.1)"><rect x="950" width="49.25" height="48.8" fill="#F4F4F4"/><rect class="h" x="950" width="49.25" height="48.8" fill="url(#hatch)"/><rect x="999.25" width="49.25" height="48.8" fill="#EEF2F5"/><rect class="h" x="999.25" width="49.25" height="48.8" fill="url(#hatch)"/><rect x="1048.5" width="49.25" height="48.8" fill="#F9ECE5"/><rect class="h" x="1048.5" width="49.25" height="48.8" fill="url(#hatch)"/><rect x="1097.75" width="49.25" height="48.8" fill="#2166AC"/><rect x="1154" width="49" height="48.8" fill="#2166AC"/><text class="rl" x="1207" y="34">Ndk</text></g>
<g transform="translate(0,1761.9)"><rect x="950" width="49.25" height="48.8" fill="#FBE3D6"/><rect x="999.25" width="49.25" height="48.8" fill="#F8C5AD"/><rect x="1048.5" width="49.25" height="48.8" fill="#F9ECE5"/><rect class="h" x="1048.5" width="49.25" height="48.8" fill="url(#hatch)"/><rect x="1097.75" width="49.25" height="48.8" fill="#8EBFDC"/><rect class="h" x="1097.75" width="49.25" height="48.8" fill="url(#hatch)"/><rect x="1154" width="49" height="48.8" fill="#8EBFDC"/><rect class="h" x="1154" width="49" height="48.8" fill="url(#hatch)"/><text class="rl" x="1207" y="34">PyrF</text></g>
<g transform="translate(0,1810.7)"><rect x="950" width="49.25" height="48.8" fill="#E8EFF4"/><rect class="h" x="950" width="49.25" height="48.8" fill="url(#hatch)"/><rect x="999.25" width="49.25" height="48.8" fill="#F0F3F6"/><rect class="h" x="999.25" width="49.25" height="48.8" fill="url(#hatch)"/><rect x="1048.5" width="49.25" height="48.8" fill="#DCEAF3"/><rect class="h" x="1048.5" width="49.25" height="48.8" fill="url(#hatch)"/><rect x="1097.75" width="49.25" height="48.8" fill="#3E82BD"/><rect x="1154" width="49" height="48.8" fill="#4D92C6"/><text class="rl" x="1207" y="34">PyrB</text></g>
<g transform="translate(0,1859.5)"><rect x="950" width="49.25" height="48.8" fill="#F8EEE8"/><rect class="h" x="950" width="49.25" height="48.8" fill="url(#hatch)"/><rect x="999.25" width="49.25" height="48.8" fill="#F8EEE8"/><rect class="h" x="999.25" width="49.25" height="48.8" fill="url(#hatch)"/><rect x="1048.5" width="49.25" height="48.8" fill="#FBE2D5"/><rect x="1097.75" width="49.25" height="48.8" fill="#3E82BD"/><rect x="1154" width="49" height="48.8" fill="#3B7FBB"/><text class="rl" x="1207" y="34">PyrC</text></g>
<g transform="translate(0,1908.3)"><rect x="950" width="49.25" height="48.8" fill="#FBE3D6"/><rect x="999.25" width="49.25" height="48.8" fill="#F9ECE5"/><rect class="h" x="999.25" width="49.25" height="48.8" fill="url(#hatch)"/><rect x="1048.5" width="49.25" height="48.8" fill="#F8C8B0"/><rect x="1097.75" width="49.25" height="48.8" fill="#2468AE"/><rect x="1154" width="49" height="48.8" fill="#2E70B2"/><text class="rl" x="1207" y="34">CarA</text></g>
<g transform="translate(0,1957.1)"><rect x="950" width="49.25" height="48.8" fill="#F8EEE8"/><rect class="h" x="950" width="49.25" height="48.8" fill="url(#hatch)"/><rect x="999.25" width="49.25" height="48.8" fill="#F4F4F4"/><rect class="h" x="999.25" width="49.25" height="48.8" fill="url(#hatch)"/><rect x="1048.5" width="49.25" height="48.8" fill="#FBE2D5"/><rect x="1097.75" width="49.25" height="48.8" fill="#2166AC"/><rect x="1154" width="49" height="48.8" fill="#3B7FBB"/><text class="rl" x="1207" y="34">CarB</text></g>
<rect class="frame" x="950" y="1664.3" width="197" height="341.6"/><rect class="frame" x="1154" y="1664.3" width="49" height="341.6"/>
<line class="lft" x1="950" y1="1662.8" x2="950" y2="2007.4"/><line class="lft" x1="1154" y1="1662.8" x2="1154" y2="2007.4"/>

<text class="grp" transform="translate(939,1512) rotate(-90)">Urease</text>
<text class="grp" transform="translate(902,1836) rotate(-90)">Pyrimidine</text>
<text class="grp" transform="translate(937,1836) rotate(-90)">biosynthesis</text>

<text class="tl" transform="translate(1000,2018) rotate(-45)">10 min</text>
<text class="tl" transform="translate(1049,2018) rotate(-45)">25 min</text>
<text class="tl" transform="translate(1098,2018) rotate(-45)">50 min</text>
<text class="tl" transform="translate(1147,2018) rotate(-45)">180 min</text>
<text class="tl" transform="translate(1203,2018) rotate(-45)">180 min</text>
</g>

<g id="colorbar">
<text x="1380" y="1342" font-size="24" fill="#111" text-anchor="middle">Log2 FC</text>
<rect x="1350" y="1362" width="31" height="437" fill="url(#cbar)"/>
<text class="cb" x="1387" y="1370">&gt;1</text>
<text class="cb" x="1386" y="1480">0.5</text>
<text class="cb" x="1386" y="1589">0</text>
<text class="cb" x="1386" y="1700">-0.5</text>
<text class="cb" x="1386" y="1808">&lt; -1</text>
</g>
</svg>
